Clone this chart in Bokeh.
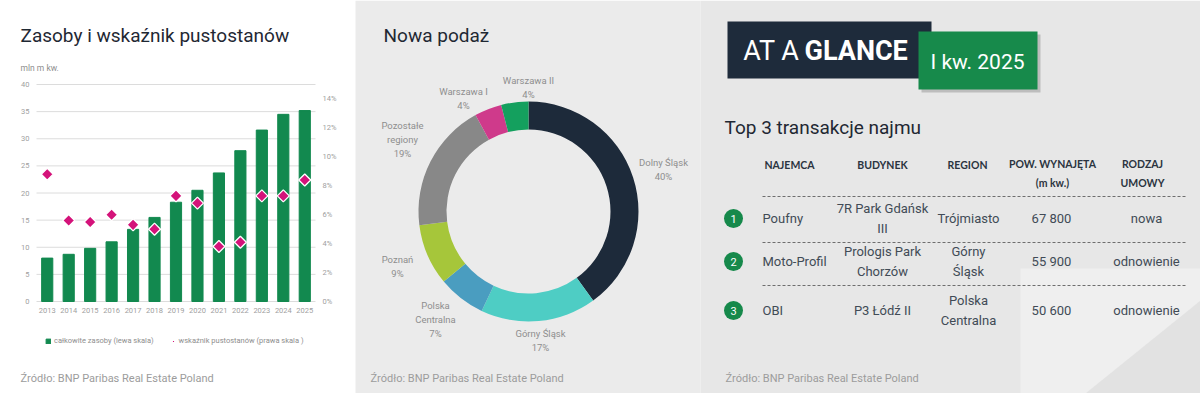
import numpy as np
from bokeh.plotting import figure
from bokeh.models import (Range1d, LinearAxis, FixedTicker, PrintfTickFormatter,
                          Legend, LegendItem)
from bokeh.embed import file_html
from bokeh.resources import INLINE
from bokeh.core.properties import value

# ---------------- data ----------------
years = list(range(2013, 2026))
stock_mln_sqm = [8.0, 8.7, 9.8, 11.0, 13.3, 15.5, 18.3, 20.5, 23.7, 27.8, 31.6, 34.5, 35.2]
vacancy_pct = [8.8, 5.6, 5.5, 6.0, 5.3, 5.0, 7.3, 6.8, 3.8, 4.1, 7.3, 7.3, 8.4]
left_ticks = [0, 5, 10, 15, 20, 25, 30, 35, 40]
right_ticks = [0, 2, 4, 6, 8, 10, 12, 14]

supply_regions = ["Dolny Śląsk", "Górny Śląsk", "Polska Centralna", "Poznań",
                  "Pozostałe regiony", "Warszawa I", "Warszawa II"]
supply_share = [40, 17, 7, 9, 19, 4, 4]
supply_label_names = ["Dolny Śląsk", "Górny Śląsk", "Polska\nCentralna", "Poznań",
                      "Pozostałe\nregiony", "Warszawa I", "Warszawa II"]

deal_rank = [1, 2, 3]
deal_tenant = ["Poufny", "Moto-Profil", "OBI"]
deal_building = ["7R Park Gdańsk\nIII", "Prologis Park\nChorzów", "P3 Łódź II"]
deal_region = ["Trójmiasto", "Górny\nŚląsk", "Polska\nCentralna"]
deal_area = [67800, 55900, 50600]
deal_type = ["nowa", "odnowienie", "odnowienie"]
table_headers = ["NAJEMCA", "BUDYNEK", "REGION", "POW. WYNAJĘTA\n(m kw.)", "RODZAJ\nUMOWY"]

# ---------------- styles ----------------
GREEN = "#12894f"
PINK = "#d4137a"
DARK = "#1f2833"
GRAY_TXT = "#8e8e8e"
SRC_TXT = "#9c9c9c"
TITLE_FONT = "Roboto"
BODY_FONT = "Roboto"
HEAD_FONT = "Lato"
SOURCE = "Źródło: BNP Paribas Real Estate Poland"
donut_colors = ["#1d2a3a", "#4ecdc4", "#4a9dc0", "#a6c63a", "#888888", "#cf3a8b", "#14a05e"]

W, H = 1200, 393


def Y(img_y):
    """image row -> data y (canvas coordinates, origin bottom-left)"""
    return H - img_y


p = figure(width=W, height=H, x_range=Range1d(0, W), y_range=Range1d(0, H),
           min_border=0, x_axis_type=None, y_axis_type=None,
           output_backend="svg", toolbar_location=None,
           background_fill_color="white", border_fill_color="white", outline_line_color=None)

# panel backgrounds
p.quad(left=[0, 355, 700], right=[355, 700, W], bottom=0, top=H,
       fill_color=["#ffffff", "#ebebeb", "#e7e7e7"], line_color=None)
p.quad(left=1020, right=W, bottom=0, top=Y(268), fill_color="#efefef", line_color=None)
p.patch(x=[1085, W, W], y=[0, Y(300), 0], fill_color="#d6d6d6", fill_alpha=0.5, line_color=None)

# ================= LEFT: bars + vacancy =================
FR_L, FR_R, FR_T, FR_B = 36, 315, 84, 301       # plot area in image pixels
px_per_year = (FR_R - FR_L) / len(years)
x_first = years[0] - 0.5
x_last = years[-1] + 0.5
px_per_mln = (FR_B - FR_T) / 40
px_per_pct = (FR_B - FR_T) / 15
p.extra_x_ranges = {"year": Range1d(x_first - FR_L / px_per_year, x_first + (W - FR_L) / px_per_year)}
p.extra_y_ranges = {"stock": Range1d(-(H - FR_B) / px_per_mln, FR_B / px_per_mln),
                    "pct": Range1d(-(H - FR_B) / px_per_pct, FR_B / px_per_pct)}

p.segment(x0=x_first, x1=x_last, y0=left_ticks, y1=left_ticks, x_range_name="year",
          y_range_name="stock", line_color="#dcdcdc", line_width=1)
bars = p.vbar(x=years, top=stock_mln_sqm, bottom=0, width=0.52, color=GREEN,
              x_range_name="year", y_range_name="stock")
dia = p.scatter(x=years, y=vacancy_pct, x_range_name="year", y_range_name="pct",
                marker="square", angle=np.pi / 4, size=8.5, fill_color=PINK,
                line_color="white", line_width=1.3)

yax = LinearAxis(x_range_name="year", y_range_name="stock", fixed_location=x_first,
                 ticker=FixedTicker(ticks=left_ticks))
rax = LinearAxis(x_range_name="year", y_range_name="pct", fixed_location=x_last,
                 ticker=FixedTicker(ticks=right_ticks), formatter=PrintfTickFormatter(format="%d%%"))
xax = LinearAxis(x_range_name="year", y_range_name="stock", fixed_location=0,
                 ticker=FixedTicker(ticks=years), formatter=PrintfTickFormatter(format="%d"))
for ax, standoff in ((yax, 7), (rax, 7), (xax, 6)):
    ax.axis_line_color = None
    ax.major_tick_line_color = None
    ax.minor_tick_line_color = None
    ax.major_tick_in = 0
    ax.major_tick_out = 0
    ax.major_label_standoff = standoff
    ax.major_label_text_font = BODY_FONT
    ax.major_label_text_font_size = "7.5px"
    ax.major_label_text_color = "#a0a0a0"
p.add_layout(yax, "left")
p.add_layout(rax, "right")
p.add_layout(xax, "below")

legend = Legend(items=[LegendItem(label="całkowite zasoby (lewa skala)", renderers=[bars]),
                       LegendItem(label="wskaźnik pustostanów (prawa skala )", renderers=[dia])],
                location=(45, Y(345)), orientation="horizontal", background_fill_alpha=0,
                border_line_color=None, padding=0, margin=0, spacing=16,
                glyph_width=6, glyph_height=6, label_standoff=3, label_height=8,
                label_text_font=BODY_FONT, label_text_font_size="7.5px", label_text_color=GRAY_TXT)
p.add_layout(legend, "center")

p.text(x=[20], y=[Y(35)], text=["Zasoby i wskaźnik pustostanów"], text_font=value(TITLE_FONT),
       text_font_size="19px", text_color=DARK, text_baseline="middle")
p.text(x=[20], y=[Y(67)], text=["mln m kw."], text_font=value(BODY_FONT),
       text_font_size="8.5px", text_color=GRAY_TXT, text_baseline="middle")

# ================= MIDDLE: donut =================
shares = np.array(supply_share, dtype=float) / sum(supply_share)
cum = np.concatenate([[0.0], np.cumsum(shares)])
start_angles = np.pi / 2 - 2 * np.pi * cum[:-1]
end_angles = np.pi / 2 - 2 * np.pi * cum[1:]
p.annular_wedge(x=528, y=Y(211), inner_radius=82, outer_radius=110,
                start_angle=start_angles, end_angle=end_angles, direction="clock",
                fill_color=donut_colors, line_color=None)

label_pos = [(663, 169), (540, 340), (435, 319), (397, 266), (402, 139), (463, 98), (528, 87)]
p.text(x=[q[0] for q in label_pos], y=[Y(q[1]) for q in label_pos],
       text=[f"{n}\n{s}%" for n, s in zip(supply_label_names, supply_share)],
       text_font=value(BODY_FONT), text_font_size="9.5px", text_color=GRAY_TXT,
       text_align="center", text_baseline="middle", text_line_height=1.3)

p.text(x=[383], y=[Y(35)], text=["Nowa podaż"], text_font=value(TITLE_FONT),
       text_font_size="19px", text_color=DARK, text_baseline="middle")

# ================= RIGHT: table =================
p.quad(left=727, right=931, top=Y(21), bottom=Y(78), fill_color="#1e2b3b", line_color=None)
p.quad(left=921, right=1040, top=Y(34), bottom=Y(92), fill_color="#000000", fill_alpha=0.18,
       line_color=None)
p.quad(left=918, right=1037, top=Y(31), bottom=Y(89), fill_color="#178a4b", line_color=None)
p.text(x=[799], y=[Y(50)], text=["AT A"], text_font=value(TITLE_FONT),
       text_font_size="27px", text_color="white", text_align="right", text_baseline="middle")
p.text(x=[804], y=[Y(50)], text=["GLANCE"], text_font=value(TITLE_FONT),
       text_font_size="27px", text_font_style="bold", text_color="white", text_baseline="middle")
p.text(x=[977], y=[Y(61)], text=["I kw. 2025"], text_font=value(TITLE_FONT),
       text_font_size="21px", text_color="white", text_align="center", text_baseline="middle")
p.text(x=[724], y=[Y(127)], text=["Top 3 transakcje najmu"], text_font=value(TITLE_FONT),
       text_font_size="19px", text_color=DARK, text_baseline="middle")

head_x = [789, 882, 967, 1052, 1142]
p.text(x=head_x, y=[Y(173 if "\n" in h else 164) for h in table_headers],
       text=table_headers, text_font=value(HEAD_FONT), text_font_size="10.5px",
       text_font_style="bold", text_color="#2b3440", text_align="center",
       text_baseline="middle", text_line_height=1.6)

sep_y = [196, 242, 285]
p.segment(x0=762, x1=1185, y0=[Y(s) for s in sep_y], y1=[Y(s) for s in sep_y],
          line_color="#6e6e6e", line_width=1, line_dash="3 2")

row_y = [Y(218), Y(261), Y(310)]
p.scatter(x=733, y=row_y, marker="circle", size=19, fill_color="#16894b", line_color=None)
p.text(x=733, y=row_y, text=[str(r) for r in deal_rank], text_font=value(BODY_FONT),
       text_font_size="11px", text_color="white", text_align="center", text_baseline="middle")

ROW_TXT = "#414b56"
cell_kw = dict(text_font=value(BODY_FONT), text_font_size="13px", text_color=ROW_TXT,
               text_baseline="middle", text_line_height=1.3)
p.text(x=762, y=row_y, text=deal_tenant, text_align="left", **cell_kw)
p.text(x=882, y=row_y, text=deal_building, text_align="center", **cell_kw)
p.text(x=968, y=row_y, text=deal_region, text_align="center", **cell_kw)
p.text(x=1051, y=row_y, text=[f"{a:,}".replace(",", " ") for a in deal_area],
       text_align="center", **cell_kw)
p.text(x=1146, y=row_y, text=deal_type, text_align="center", **cell_kw)

# sources
p.text(x=[20, 370, 725], y=[Y(378)] * 3, text=[SOURCE] * 3, text_font=value(BODY_FONT),
       text_font_size="11px", text_color=SRC_TXT, text_baseline="middle")

open("out.html", "w").write(file_html(p, INLINE))
